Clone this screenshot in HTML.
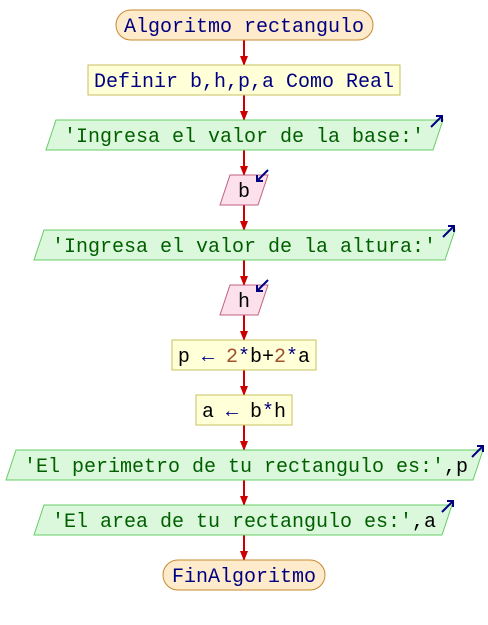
<!DOCTYPE html>
<html><head><meta charset="utf-8"><style>
html,body{margin:0;padding:0;background:#fff;width:488px;height:625px;overflow:hidden}
text{font-family:"Liberation Mono",monospace;font-size:20px}
</style></head><body>
<svg width="488" height="625" xmlns="http://www.w3.org/2000/svg">
<defs>
<marker id="ah" markerWidth="10" markerHeight="8" refX="9" refY="4" orient="auto" markerUnits="userSpaceOnUse"><path d="M0,0 L10,4 L0,8z" fill="#cc0000"/></marker>
</defs>
<g stroke="#cc0000" stroke-width="2" marker-end="url(#ah)">
<line x1="244" y1="40" x2="244" y2="65"/>
<line x1="244" y1="95" x2="244" y2="120"/>
<line x1="244" y1="150" x2="244" y2="175"/>
<line x1="244" y1="205" x2="244" y2="230"/>
<line x1="244" y1="260" x2="244" y2="285"/>
<line x1="244" y1="315" x2="244" y2="340"/>
<line x1="244" y1="370" x2="244" y2="395"/>
<line x1="244" y1="425" x2="244" y2="450"/>
<line x1="244" y1="480" x2="244" y2="505"/>
<line x1="244" y1="535" x2="244" y2="560"/>
</g>
<rect x="116" y="10" width="257" height="30" rx="15" fill="#fdebcb" stroke="#c8882e"/>
<text x="244" y="32" text-anchor="middle" fill="#000080">Algoritmo rectangulo</text>
<rect x="88" y="65" width="312" height="30" fill="#ffffd8" stroke="#c8c060"/>
<text x="244" y="87" text-anchor="middle" fill="#000080">Definir b,h,p,a Como Real</text>
<polygon points="56,120 443,120 433,150 46,150" fill="#dcf8dc" stroke="#66cc66"/>
<text x="244" y="142" text-anchor="middle" fill="#006000">'Ingresa el valor de la base:'</text>
<polygon points="230,175 268,175 258,205 220,205" fill="#fce0ec" stroke="#c06080"/>
<text x="244" y="197" text-anchor="middle" fill="#000">b</text>
<polygon points="44,230 455,230 445,260 34,260" fill="#dcf8dc" stroke="#66cc66"/>
<text x="244" y="252" text-anchor="middle" fill="#006000">'Ingresa el valor de la altura:'</text>
<polygon points="230,285 268,285 258,315 220,315" fill="#fce0ec" stroke="#c06080"/>
<text x="244" y="307" text-anchor="middle" fill="#000">h</text>
<rect x="172" y="340" width="144" height="30" fill="#ffffd8" stroke="#c8c060"/>
<text x="244" y="362" text-anchor="middle" fill="#000">p <tspan fill="#000080">←</tspan> <tspan fill="#a0522d">2</tspan><tspan fill="#000080">*</tspan>b+<tspan fill="#a0522d">2</tspan><tspan fill="#000080">*</tspan>a</text>
<rect x="196" y="395" width="96" height="30" fill="#ffffd8" stroke="#c8c060"/>
<text x="244" y="417" text-anchor="middle" fill="#000">a <tspan fill="#000080">←</tspan> b<tspan fill="#000080">*</tspan>h</text>
<polygon points="16,450 483,450 473,480 6,480" fill="#dcf8dc" stroke="#66cc66"/>
<text x="246" y="472" text-anchor="middle" fill="#006000">'El perimetro de tu rectangulo es:'<tspan fill="#000">,p</tspan></text>
<polygon points="44,505 452,505 442,535 34,535" fill="#dcf8dc" stroke="#66cc66"/>
<text x="244" y="527" text-anchor="middle" fill="#006000">'El area de tu rectangulo es:'<tspan fill="#000">,a</tspan></text>
<rect x="163" y="560" width="162" height="30" rx="15" fill="#fdebcb" stroke="#c8882e"/>
<text x="244" y="582" text-anchor="middle" fill="#000080">FinAlgoritmo</text>
<g stroke="#000080" stroke-width="2" fill="none">
<path d="M431,127 L442,116 M436,116 L442,116 L442,122"/>
<path d="M443,237 L454,226 M448,226 L454,226 L454,232"/>
<path d="M472,457 L483,446 M477,446 L483,446 L483,452"/>
<path d="M442,512 L453,501 M447,501 L453,501 L453,507"/>
<path d="M268,170 L257,181 M257,175 L257,181 L263,181"/>
<path d="M268,280 L257,291 M257,285 L257,291 L263,291"/>
</g>
</svg>
</body></html>
